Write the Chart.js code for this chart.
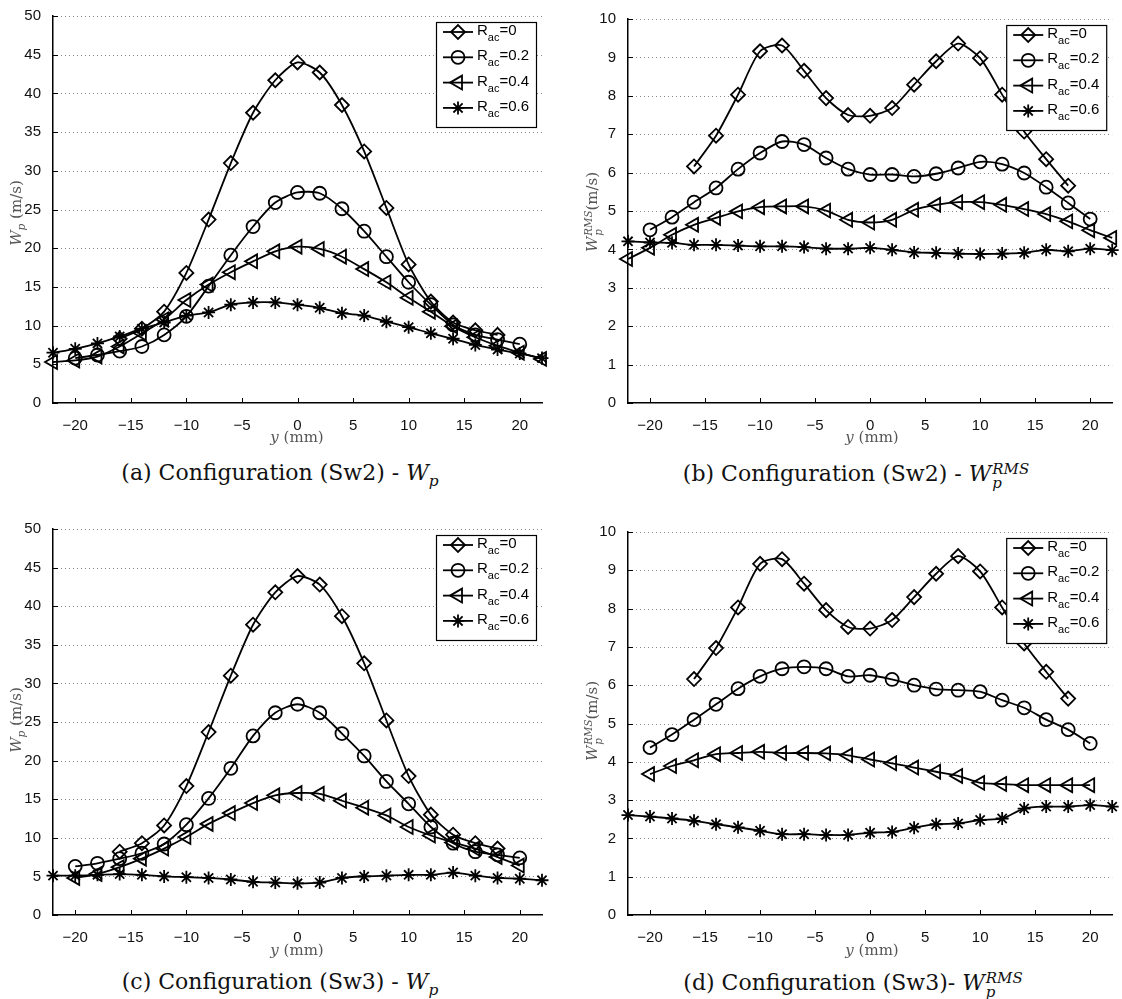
<!DOCTYPE html>
<html>
<head>
<meta charset="utf-8">
<script src="https://cdn.jsdelivr.net/npm/chart.js@4.4.1/dist/chart.umd.min.js"></script>
<style>
  body { margin: 0; background: #fff; width: 1122px; height: 999px; position: relative; overflow: hidden; }
  .panel { position: absolute; width: 561px; height: 450px; }
  .cap { position: absolute; font-family: "DejaVu Serif", serif; font-size: 22px; color: #111; white-space: nowrap; transform: translate(-50%, -50%); }
  .ytitle { position: absolute; font-family: "DejaVu Serif", serif; font-size: 15px; color: #555; white-space: nowrap; transform: translate(-50%, -50%) rotate(-90deg); }
  .xtitle { position: absolute; font-family: "DejaVu Serif", serif; font-size: 15px; color: #555; white-space: nowrap; transform: translate(-50%, -50%); }
  .ss { display: inline-block; vertical-align: -0.45em; line-height: 0.95; font-size: 0.68em; font-style: italic; margin-left: 1px; }
  .ss span { display: block; }
  sub { font-size: 0.7em; }
</style>
</head>
<body>
<div class="panel" style="left:0;top:0"><canvas id="chartA"></canvas></div>
<div class="panel" style="left:561px;top:0"><canvas id="chartB"></canvas></div>
<div class="panel" style="left:0;top:500px"><canvas id="chartC"></canvas></div>
<div class="panel" style="left:561px;top:500px"><canvas id="chartD"></canvas></div>

<div class="ytitle" style="left:17px;top:213px"><i>W</i><sub><i>p</i></sub> (m/s)</div>
<div class="ytitle" style="left:593px;top:212px"><i>W</i><span class="ss"><span>RMS</span><span>p</span></span>(m/s)</div>
<div class="ytitle" style="left:17px;top:720px"><i>W</i><sub><i>p</i></sub> (m/s)</div>
<div class="ytitle" style="left:593px;top:721px"><i>W</i><span class="ss"><span>RMS</span><span>p</span></span>(m/s)</div>

<div class="xtitle" style="left:297px;top:437px"><i>y</i> (mm)</div>
<div class="xtitle" style="left:872px;top:437px"><i>y</i> (mm)</div>
<div class="xtitle" style="left:297px;top:950px"><i>y</i> (mm)</div>
<div class="xtitle" style="left:872px;top:950px"><i>y</i> (mm)</div>

<div class="cap" style="left:280px;top:475px">(a) Configuration (Sw2) - <i>W</i><sub><i>p</i></sub></div>
<div class="cap" style="left:856px;top:475px">(b) Configuration (Sw2) - <i>W</i><span class="ss"><span>RMS</span><span>p</span></span></div>
<div class="cap" style="left:280px;top:984px">(c) Configuration (Sw3) - <i>W</i><sub><i>p</i></sub></div>
<div class="cap" style="left:853px;top:984px">(d) Configuration (Sw3)- <i>W</i><span class="ss"><span>RMS</span><span>p</span></span></div>

<script>
// measurement positions y (mm)
const posAll = [-22, -20, -18, -16, -14, -12, -10, -8, -6, -4, -2, 0, 2, 4, 6, 8, 10, 12, 14, 16, 18, 20, 22];
const pos20 = [-20, -18, -16, -14, -12, -10, -8, -6, -4, -2, 0, 2, 4, 6, 8, 10, 12, 14, 16, 18, 20];
const posR0 = [-16, -14, -12, -10, -8, -6, -4, -2, 0, 2, 4, 6, 8, 10, 12, 14, 16, 18];
const xTickValues = [-20, -15, -10, -5, 0, 5, 10, 15, 20];
const legendLabels = ['0', '0.2', '0.4', '0.6'];

// (a) Sw2 - Wp
const aR0 = [8.3, 9.6, 11.8, 16.8, 23.7, 31.0, 37.5, 41.7, 44.0, 42.7, 38.5, 32.5, 25.2, 17.9, 13.1, 10.4, 9.4, 8.8];
const aR02 = [5.8, 6.2, 6.7, 7.3, 8.8, 11.2, 15.1, 19.1, 22.8, 25.9, 27.2, 27.1, 25.1, 22.2, 18.9, 15.6, 12.7, 10.1, 8.8, 8.2, 7.6];
const aR04 = [5.3, 5.5, 6.0, 7.3, 9.0, 10.8, 13.3, 15.3, 16.9, 18.3, 19.6, 20.2, 19.9, 18.9, 17.3, 15.6, 13.6, 11.8, 9.9, 8.5, 7.4, 6.5, 5.7];
const aR06 = [6.5, 7.0, 7.7, 8.6, 9.6, 10.4, 11.3, 11.7, 12.7, 13.0, 13.0, 12.7, 12.3, 11.6, 11.3, 10.5, 9.8, 9.0, 8.3, 7.5, 6.9, 6.4, 5.8];

// (b) Sw2 - Wp RMS
const bR0 = [6.16, 6.96, 8.03, 9.16, 9.31, 8.65, 7.94, 7.5, 7.48, 7.68, 8.29, 8.9, 9.36, 8.98, 8.03, 7.07, 6.35, 5.66];
const bR02 = [4.51, 4.84, 5.23, 5.6, 6.09, 6.51, 6.81, 6.73, 6.38, 6.09, 5.95, 5.95, 5.9, 5.97, 6.12, 6.28, 6.22, 5.99, 5.62, 5.21, 4.79];
const bR04 = [3.75, 4.04, 4.38, 4.64, 4.82, 4.99, 5.1, 5.12, 5.12, 5.01, 4.77, 4.7, 4.77, 5.03, 5.16, 5.23, 5.23, 5.16, 5.05, 4.92, 4.73, 4.5, 4.3];
const bR06 = [4.21, 4.18, 4.17, 4.12, 4.12, 4.1, 4.08, 4.08, 4.06, 4.02, 4.02, 4.04, 3.99, 3.92, 3.91, 3.89, 3.88, 3.89, 3.91, 3.99, 3.95, 4.02, 3.98];

// (c) Sw3 - Wp
const cR0 = [8.2, 9.3, 11.6, 16.7, 23.7, 31.0, 37.6, 41.8, 43.9, 42.8, 38.7, 32.6, 25.2, 18.0, 13.0, 10.4, 9.3, 8.6];
const cR02 = [6.3, 6.7, 7.3, 8.0, 9.2, 11.7, 15.1, 19.0, 23.2, 26.2, 27.3, 26.2, 23.5, 20.6, 17.3, 14.4, 11.4, 9.3, 8.2, 7.8, 7.4];
const cR04 = [4.8, 5.3, 6.2, 7.3, 8.6, 10.1, 11.8, 13.2, 14.5, 15.5, 15.8, 15.7, 14.8, 13.9, 12.9, 11.4, 10.3, 9.4, 8.6, 7.5, 6.4];
const cR06 = [5.1, 5.1, 5.2, 5.3, 5.2, 5.0, 4.9, 4.8, 4.6, 4.3, 4.2, 4.1, 4.2, 4.8, 5.0, 5.1, 5.2, 5.2, 5.5, 5.1, 4.8, 4.7, 4.5];

// (d) Sw3 - Wp RMS
const dR0 = [6.16, 6.97, 8.03, 9.17, 9.29, 8.65, 7.96, 7.52, 7.48, 7.7, 8.3, 8.91, 9.37, 8.97, 8.03, 7.09, 6.35, 5.65];
const dR02 = [4.37, 4.71, 5.1, 5.5, 5.91, 6.23, 6.43, 6.48, 6.43, 6.23, 6.26, 6.15, 6.0, 5.9, 5.87, 5.83, 5.61, 5.41, 5.1, 4.84, 4.48];
const dR04 = [3.68, 3.89, 4.04, 4.2, 4.23, 4.26, 4.23, 4.23, 4.22, 4.17, 4.06, 3.96, 3.85, 3.74, 3.63, 3.45, 3.42, 3.39, 3.39, 3.39, 3.39];
const dR06 = [2.61, 2.57, 2.52, 2.46, 2.37, 2.29, 2.2, 2.11, 2.11, 2.09, 2.09, 2.15, 2.17, 2.28, 2.37, 2.39, 2.48, 2.52, 2.78, 2.83, 2.83, 2.87, 2.83];

const markers = [
  { pointStyle: 'rectRot', radius: 7, rotation: 0 },
  { pointStyle: 'circle', radius: 6.5, rotation: 0 },
  { pointStyle: 'triangle', radius: 8, rotation: -90 },
  { pointStyle: 'star', radius: 6.5, rotation: 0 }
];

function toPoints(xs, ys) {
  return xs.map((x, i) => ({ x: x, y: ys[i] }));
}

// dotted grid lines, inward ticks and the legend box with subscripts
const decorPlugin = {
  id: 'decor',
  beforeDatasetsDraw(chart) {
    const ctx = chart.ctx, a = chart.chartArea;
    const ys = chart.scales.y, xs = chart.scales.x;
    ctx.save();
    ctx.strokeStyle = '#8a8a8a';
    ctx.lineWidth = 1;
    ctx.setLineDash([1, 3]);
    ys.ticks.forEach(t => {
      if (t.value === ys.min) return;
      const py = Math.round(ys.getPixelForValue(t.value)) + 0.5;
      ctx.beginPath(); ctx.moveTo(a.left, py); ctx.lineTo(a.right, py); ctx.stroke();
    });
    ctx.setLineDash([]);
    ctx.strokeStyle = '#000';
    ys.ticks.forEach(t => {
      const py = Math.round(ys.getPixelForValue(t.value)) + 0.5;
      ctx.beginPath(); ctx.moveTo(a.left, py); ctx.lineTo(a.left + 5, py); ctx.stroke();
    });
    xs.ticks.forEach(t => {
      const px = Math.round(xs.getPixelForValue(t.value)) + 0.5;
      ctx.beginPath(); ctx.moveTo(px, a.bottom); ctx.lineTo(px, a.bottom - 5); ctx.stroke();
    });
    ctx.restore();
  },
  afterDraw(chart) {
    const ctx = chart.ctx, a = chart.chartArea;
    const w = 100, h = 105;
    const left = a.right - w - 6, top = a.top + 6;
    ctx.save();
    ctx.fillStyle = '#fff';
    ctx.fillRect(left, top, w, h);
    ctx.strokeStyle = '#000';
    ctx.lineWidth = 1.2;
    ctx.strokeRect(left + 0.5, top + 0.5, w, h);
    chart.data.datasets.forEach((ds, i) => {
      const cy = top + 10 + i * 25.3;
      ctx.strokeStyle = '#000';
      ctx.lineWidth = 1.8;
      ctx.beginPath(); ctx.moveTo(left + 7, cy); ctx.lineTo(left + 37, cy); ctx.stroke();
      const m = markers[i];
      ctx.fillStyle = 'rgba(0,0,0,0)';
      Chart.helpers.drawPoint(ctx, { pointStyle: m.pointStyle, rotation: m.rotation, radius: m.radius, borderWidth: 1.8 }, left + 22, cy);
      ctx.fillStyle = '#000';
      ctx.textBaseline = 'alphabetic';
      ctx.font = '15px "Liberation Sans", Arial, sans-serif';
      let tx = left + 41;
      ctx.fillText('R', tx, cy + 3);
      tx += ctx.measureText('R').width;
      ctx.font = '11px "Liberation Sans", Arial, sans-serif';
      ctx.fillText('ac', tx, cy + 9);
      tx += ctx.measureText('ac').width;
      ctx.font = '15px "Liberation Sans", Arial, sans-serif';
      ctx.fillText('=' + legendLabels[i], tx, cy + 3);
    });
    ctx.restore();
  }
};

function makePanel(id, box, yMax, yStep, xsList, ysList) {
  const W = 561, H = 450;
  const canvas = document.getElementById(id);
  canvas.width = W; canvas.height = H;
  const datasets = ysList.map((ys, i) => ({
    label: 'Rac=' + legendLabels[i],
    data: toPoints(xsList[i], ys),
    borderColor: '#000',
    backgroundColor: 'rgba(0,0,0,0)',
    borderWidth: 1.8,
    pointStyle: markers[i].pointStyle,
    pointRadius: markers[i].radius,
    pointRotation: markers[i].rotation,
    pointBorderWidth: 1.8,
    pointBorderColor: '#000',
    pointBackgroundColor: 'rgba(0,0,0,0)',
    tension: 0.25,
    clip: false
  }));
  return new Chart(canvas.getContext('2d'), {
    type: 'line',
    data: { datasets: datasets },
    options: {
      responsive: false,
      animation: false,
      events: [],
      layout: { padding: { left: 0, top: box.T, right: W - box.R, bottom: 0 } },
      plugins: { legend: { display: false }, tooltip: { enabled: false } },
      scales: {
        x: {
          type: 'linear',
          min: -22, max: 22,
          grid: { display: false },
          border: { display: true, color: '#000', width: 1.5 },
          ticks: {
            autoSkip: false,
            maxRotation: 0,
            padding: 6,
            color: '#111',
            font: { family: '"Liberation Sans", Arial, sans-serif', size: 15 },
            callback: v => (v < 0 ? '\u2212' + Math.abs(v) : String(v))
          },
          afterBuildTicks: s => { s.ticks = xTickValues.map(v => ({ value: v })); },
          afterFit: s => { s.height = H - box.B; }
        },
        y: {
          min: 0, max: yMax,
          grid: { display: false },
          border: { display: true, color: '#000', width: 1.5 },
          ticks: {
            stepSize: yStep,
            padding: 4,
            color: '#111',
            font: { family: '"Liberation Sans", Arial, sans-serif', size: 15 }
          },
          afterFit: s => { s.width = box.L; }
        }
      }
    },
    plugins: [decorPlugin]
  });
}

const seriesX = [posR0, pos20, posAll, posAll];
makePanel('chartA', { L: 53, R: 542, T: 16, B: 403 }, 50, 5, seriesX, [aR0, aR02, aR04, aR06]);
makePanel('chartB', { L: 67, R: 555, T: 19, B: 403 }, 10, 1, seriesX, [bR0, bR02, bR04, bR06]);
makePanel('chartC', { L: 53, R: 542, T: 29, B: 415 }, 50, 5, [posR0, pos20, pos20, posAll], [cR0, cR02, cR04, cR06]);
makePanel('chartD', { L: 67, R: 555, T: 32, B: 415 }, 10, 1, [posR0, pos20, pos20, posAll], [dR0, dR02, dR04, dR06]);
</script>
</body>
</html>
